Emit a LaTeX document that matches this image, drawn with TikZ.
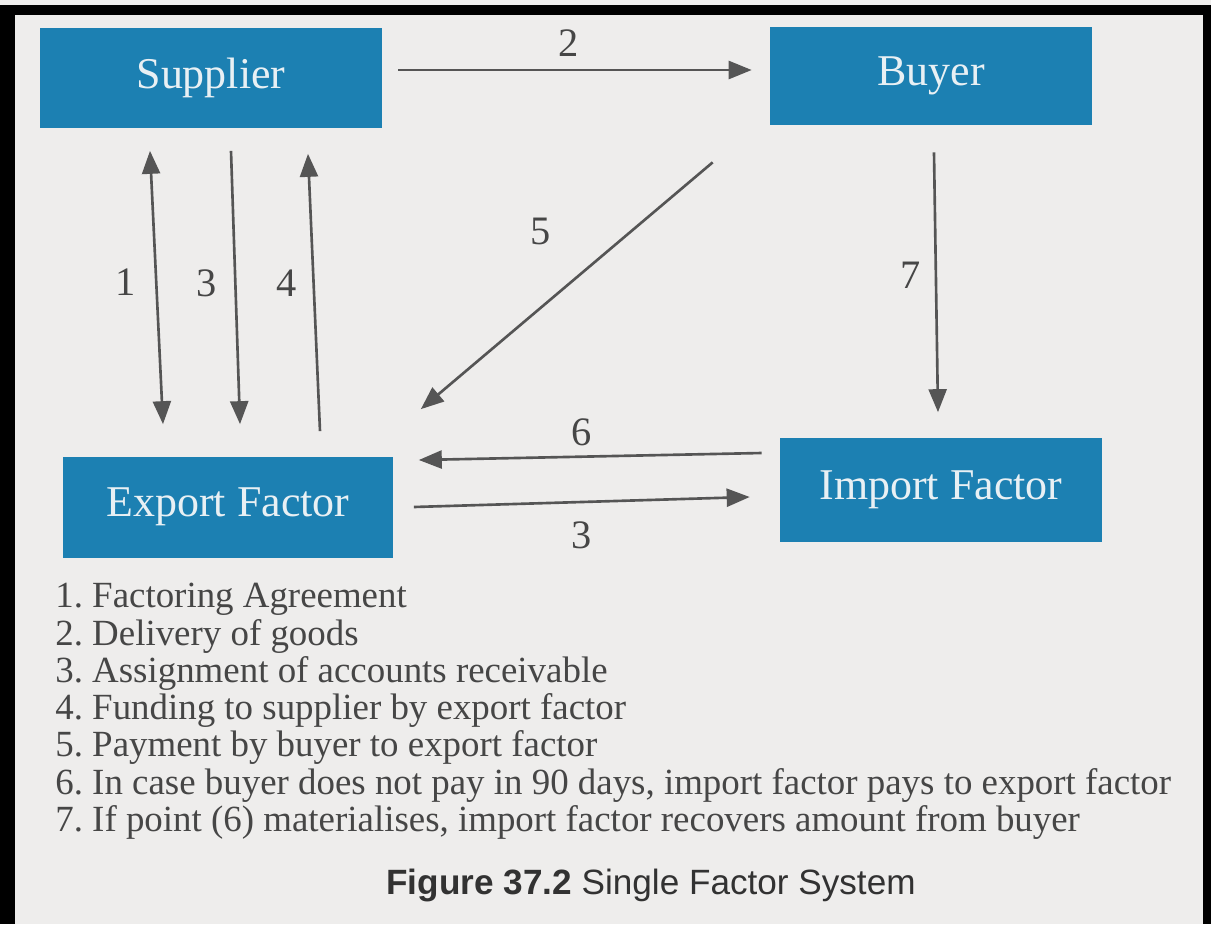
\documentclass[tikz,border=0pt]{standalone}
\usepackage{fontspec}
\setmainfont{Liberation Serif}
\setsansfont{Liberation Sans}
\usetikzlibrary{positioning, arrows.meta, calc}
\definecolor{boxblue}{RGB}{28,128,178}
\definecolor{paper}{RGB}{238,237,236}
\definecolor{inkgrey}{RGB}{70,70,70}
\definecolor{linegrey}{RGB}{85,85,85}
\definecolor{boxtext}{RGB}{232,240,244}
\frenchspacing

\begin{document}
\begin{tikzpicture}[
  x=0.02cm, y=-0.02cm,
  box/.style={fill=boxblue, text=boxtext, inner sep=0pt,
              font=\fontsize{25}{25}\selectfont},
  arrow/.style={-{Triangle[length=0.46cm, width=0.36cm]}, line width=1.5pt, linegrey},
  dblarrow/.style={arrow, {Triangle[length=0.46cm, width=0.36cm]}-{Triangle[length=0.46cm, width=0.36cm]}},
  num/.style={font=\fontsize{23}{23}\selectfont, text=inkgrey}
]
  \useasboundingbox (0,0) rectangle (1211,924);
  \fill[paper] (0,0) rectangle (1211,924);
  \fill[black] (0,5) rectangle (1211,924);
  \fill[paper] (15,15) rectangle (1203,924);

  \node[box, minimum width=6.84cm, minimum height=2.02cm] (sup) at (211,78) {Supplier};
  \node[box, minimum width=6.44cm, minimum height=1.96cm] (buy) at (931,76) {Buyer};
  \node[box, minimum width=6.62cm, minimum height=2.02cm] (exf) at (228,507) {Export Factor};
  \node[box, minimum width=6.44cm, minimum height=2.10cm] (imf) at (941,490) {Import Factor};

  \draw[arrow] ($(sup.east)+(16,-8)$) -- ($(buy.west)+(-18,-6)$)
    node[num, midway, xshift=-0.12cm, yshift=0.54cm] {2};
  \draw[dblarrow] ($(sup.south)+(-61,22)$) -- ($(exf.north)+(-65,-32)$)
    node[num, midway, xshift=-0.62cm, yshift=0.1cm] {1};
  \draw[arrow] ($(sup.south)+(20,22)$) -- ($(exf.north)+(12,-32)$)
    node[num, midway, xshift=-0.57cm, yshift=0.08cm] {3};
  \draw[arrow] ($(exf.north)+(92,-25)$) -- ($(sup.south)+(97,25)$)
    node[num, midway, xshift=-0.54cm, yshift=0.18cm] {4};
  \draw[arrow] ($(buy.south west)+(-57,37)$) -- ($(exf.north east)+(27,-47)$)
    node[num, midway, xshift=-0.53cm, yshift=1.08cm] {5};
  \draw[arrow] ($(buy.south)+(3,27)$) -- ($(imf.north)+(-3,-25)$)
    node[num, midway, xshift=-0.5cm, yshift=0.14cm] {7};
  \draw[arrow] ($(imf.west)+(-18,-37)$) -- ($(exf.east)+(25,-47)$)
    node[num, midway, xshift=-0.18cm, yshift=0.49cm] {6};
  \draw[arrow] ($(exf.east)+(20,0)$) -- ($(imf.west)+(-30,7)$)
    node[num, midway, yshift=-0.66cm] {3};

  \node[anchor=north west, inner sep=0pt, align=left, text=inkgrey,
        font=\fontsize{21}{21.2}\selectfont] (list) at (55,583) {%
    1. Factoring Agreement\\
    2. Delivery of goods\\
    3. Assignment of accounts receivable\\
    4. Funding to supplier by export factor\\
    5. Payment by buyer to export factor\\
    6. In case buyer does not pay in 90 days, import factor pays to export factor\\
    7. If point (6) materialises, import factor recovers amount from buyer};

  \node[text={rgb,255:red,50;green,50;blue,50}, font=\sffamily\fontsize{20}{20}\selectfont]
    (caption) at (651,885) {\textbf{Figure 37.2} Single Factor System};
\end{tikzpicture}
\end{document}
